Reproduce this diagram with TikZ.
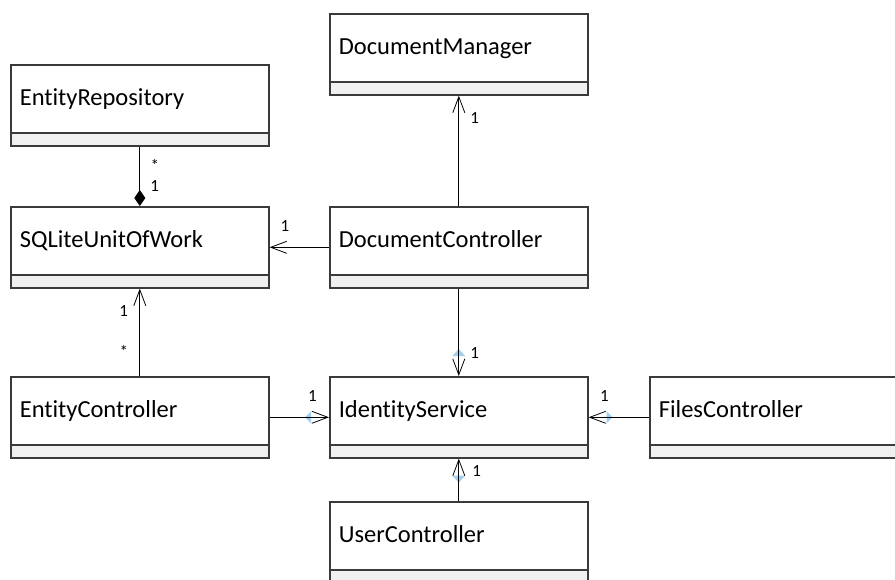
\documentclass[tikz,border=0pt]{standalone}
\usepackage{fontspec}
\setmainfont{Carlito}[Ligatures=CommonOff]
\usetikzlibrary{arrows.meta,calc}

\definecolor{boxline}{HTML}{3A3A3A}
\definecolor{opfill}{HTML}{F0F0F0}
\definecolor{hintblue}{HTML}{9ED0EF}

\tikzset{
  classbox/.style={draw=boxline, line width=1.6pt, fill=white, anchor=north west,
    minimum width=258pt, minimum height=81pt, text width=240pt, align=left,
    inner xsep=9pt, text height=16pt, text depth=15pt,
    font=\fontsize{24.5}{29}\selectfont,
    path picture={
      \fill[opfill] (path picture bounding box.south west) rectangle ([yshift=13pt]path picture bounding box.south east);
      \draw[boxline, line width=1.6pt] ([yshift=13pt]path picture bounding box.south west) -- ([yshift=13pt]path picture bounding box.south east);
    }},
  assoc/.style={draw, line width=0.8pt, -{Straight Barb[length=16pt,width=12pt]}},
  compo/.style={draw, line width=0.8pt, -{Diamond[length=16pt,width=11pt]}},
  mult/.style={font=\fontsize{17}{20}\selectfont, text height=11pt, text depth=0pt, inner sep=1pt},
  hint/.style={fill=hintblue}
}

\begin{document}
\begin{tikzpicture}[x=1pt, y=-1pt]

\useasboundingbox (0,0) rectangle (895,579);
\clip (0,0) rectangle (895,579);
\fill[white] (0,0) rectangle (895,579);

\node[classbox] (dm) at (329,13) {DocumentManager};
\node[classbox] (er) at (10,64) {EntityRepository};
\node[classbox] (sq) at (10,206) {SQLiteUnitOfWork};
\node[classbox] (dc) at (329,206) {DocumentController};
\node[classbox] (ec) at (10,376) {EntityController};
\node[classbox] (is) at (329,376) {IdentityService};
\node[classbox] (fc) at (649,376) {FilesController};
\node[classbox] (uc) at (329,501) {UserController};

\fill[hint] ($(is.north)+(-6.5,-20)$) -- ++(13,0) -- ++(-6.5,-7) -- cycle;
\fill[hint] ($(is.west)+(-18,-6)$) -- ++(0,12) -- ++(-6,-6) -- cycle;
\fill[hint] ($(is.east)+(18,-6)$) -- ++(0,12) -- ++(6,-6) -- cycle;
\fill[hint] ($(is.south)+(-6.5,17)$) -- ++(13,0) -- ++(-6.5,7) -- cycle;

\draw[compo] (er.south) -- (sq.north)
  node[mult, pos=0.33, xshift=15pt] (erMany) {*}
  node[mult, pos=0.66, xshift=15pt] (sqOne) {1};
\draw[assoc] (dc.west) -- (sq.east)
  node[mult, pos=0.74, yshift=21pt] (dcSqOne) {1};
\draw[assoc] (dc.north) -- (dm.south)
  node[mult, pos=0.80, xshift=16pt] (dcDmOne) {1};
\draw[assoc] (dc.south) -- (is.north)
  node[mult, pos=0.74, xshift=16pt] (dcIsOne) {1};
\draw[assoc] (ec.north) -- (sq.south)
  node[mult, pos=0.74, xshift=-16pt] (ecSqOne) {1}
  node[mult, pos=0.27, xshift=-16pt] (ecSqMany) {*};
\draw[assoc] (ec.east) -- (is.west)
  node[mult, pos=0.72, yshift=21pt] (ecIsOne) {1};
\draw[assoc] (fc.west) -- (is.east)
  node[mult, pos=0.74, yshift=21pt] (fcIsOne) {1};
\draw[assoc] (uc.north) -- (is.south)
  node[mult, pos=0.71, xshift=18pt] (ucIsOne) {1};

\end{tikzpicture}
\end{document}
